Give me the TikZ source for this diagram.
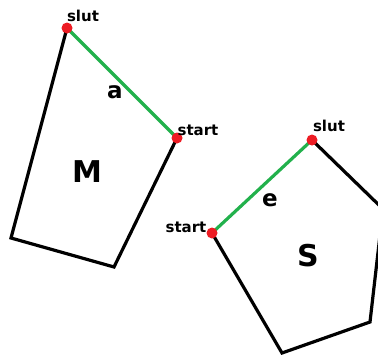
\documentclass[tikz,border=0pt]{standalone}
\usepackage{fontspec}
\setmainfont{DejaVu Sans}
\usetikzlibrary{calc}
\definecolor{paintgreen}{RGB}{34,177,76}
\definecolor{paintred}{RGB}{237,28,36}
\begin{document}
\begin{tikzpicture}[x=1pt, y=-1pt,
    side/.style={line width=3.2pt, line join=miter},
    seg/.style={line width=3.2pt, paintgreen},
    dot/.style={circle, fill=paintred, inner sep=0pt, minimum size=11pt},
    tag/.style={font=\fontsize{15}{17}\selectfont\bfseries, inner sep=0pt},
    side label/.style={font=\fontsize{23}{25}\selectfont\bfseries, inner sep=0pt},
    shape label/.style={font=\fontsize{30}{32}\selectfont\bfseries, inner sep=0pt}]
    \useasboundingbox (0,0) rectangle (378,356);
    \clip (0,0) rectangle (378,356);

    % polygon M
    \coordinate (slutM) at (67,28);
    \coordinate (startM) at (177,138);
    \coordinate (M3) at (114,267);
    \coordinate (M4) at (11,238);
    \draw[side] (startM) -- (M3) -- (M4) -- (slutM);
    \draw[seg] (slutM) -- (startM);

    % polygon S
    \coordinate (startS) at (212,233);
    \coordinate (slutS) at (312,140);
    \coordinate (S3) at (383,209);
    \coordinate (S4) at (370,322);
    \coordinate (S5) at (282,353);
    \draw[side] (slutS) -- (S3) -- (S4) -- (S5) -- (startS);
    \draw[seg] (startS) -- (slutS);

    \node[dot] (dotslutM) at (slutM) {};
    \node[dot] (dotstartM) at (startM) {};
    \node[dot] (dotstartS) at (startS) {};
    \node[dot] (dotslutS) at (slutS) {};

    \node[tag] (tslutM) at (83,16) {slut};
    \node[tag] (tstartM) at (198,130) {start};
    \node[tag] (tslutS) at (329,126) {slut};
    \node[tag] (tstartS) at (186,227) {start};

    \node[side label] (a) at (115,92) {a};
    \node[side label] (e) at (270,200) {e};
    \node[shape label] (M) at (87,172) {M};
    \node[shape label] (S) at (308,256) {S};
\end{tikzpicture}
\end{document}
